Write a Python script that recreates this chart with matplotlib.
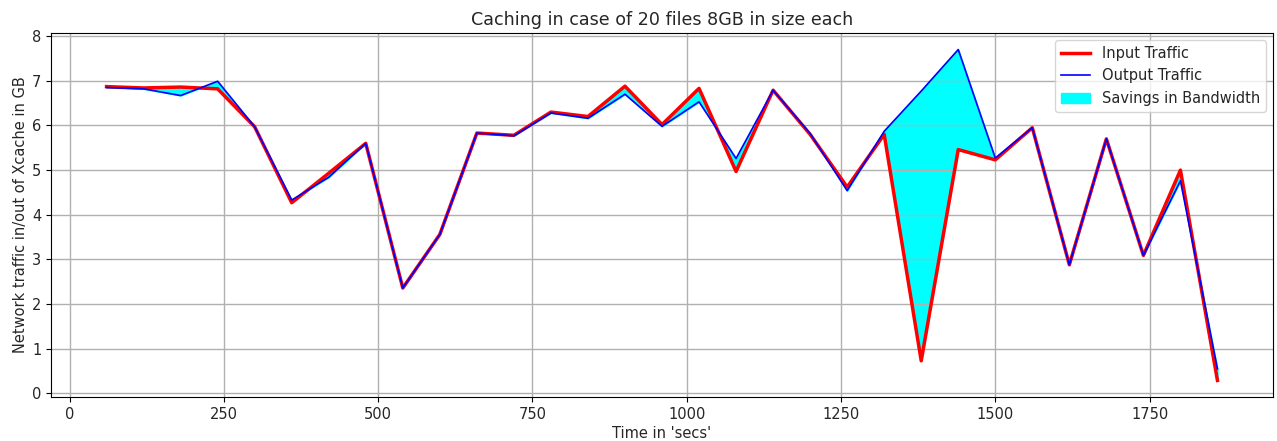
import matplotlib
matplotlib.use("Agg")
import matplotlib.pyplot as plt

time_secs = [60, 120, 180, 240, 300, 360, 420, 480, 540, 600, 660, 720, 780, 840, 900, 960,
             1020, 1080, 1140, 1200, 1260, 1320, 1380, 1440, 1500, 1560, 1620, 1680, 1740, 1800, 1860]
input_traffic = [6.87, 6.84, 6.86, 6.82, 5.97, 4.27, 4.93, 5.60, 2.36, 3.56, 5.83, 5.78, 6.30, 6.20,
                 6.88, 6.02, 6.83, 4.97, 6.79, 5.80, 4.62, 5.80, 0.73, 5.46, 5.23, 5.95, 2.88, 5.70,
                 3.09, 5.00, 0.29]
output_traffic = [6.85, 6.82, 6.67, 6.99, 5.97, 4.33, 4.84, 5.60, 2.36, 3.56, 5.83, 5.77, 6.28, 6.16,
                  6.70, 5.98, 6.53, 5.26, 6.79, 5.82, 4.54, 5.87, 6.77, 7.70, 5.27, 5.95, 2.88, 5.70,
                  3.09, 4.76, 0.55]

plt.rcParams['text.color'] = '#262626'
plt.rcParams['axes.labelcolor'] = '#262626'
plt.rcParams['xtick.labelcolor'] = '#262626'
plt.rcParams['ytick.labelcolor'] = '#262626'

fig = plt.figure(figsize=(12.77, 4.41), dpi=100)
ax = fig.add_axes([51/1277, 1 - 397/441, (1273-51)/1277, (397-33)/441])
ax.plot(time_secs, input_traffic, color="red", linewidth=2.5, label="Input Traffic")
ax.plot(time_secs, output_traffic, color="blue", linewidth=1.2, label="Output Traffic")
ax.fill_between(time_secs, input_traffic, output_traffic, color="cyan", label="Savings in Bandwidth")
ax.grid(True, color="#b0b0b0", linewidth=1.0)
ax.set_title("Caching in case of 20 files 8GB in size each", fontsize=12.6)
ax.set_xlabel("Time in 'secs'", fontsize=10.5, labelpad=3)
ax.set_ylabel("Network traffic in/out of Xcache in GB", fontsize=10.5, labelpad=3)
ax.tick_params(labelsize=10.5)
ax.legend(loc="upper right", fontsize=10.5)
fig.savefig("out.png", dpi=100)
